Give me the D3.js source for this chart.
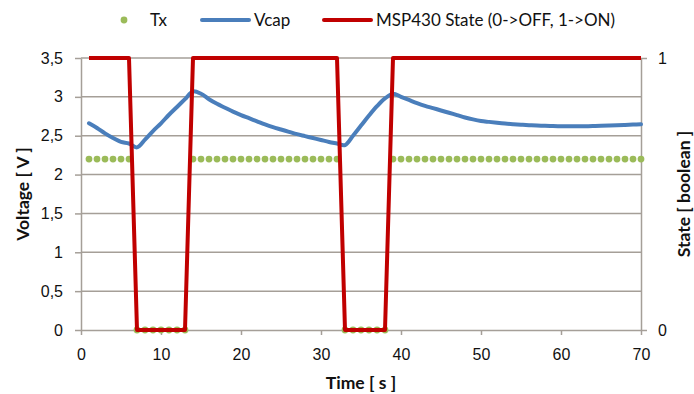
<!DOCTYPE html>
<html>
<head>
<meta charset="utf-8">
<script src="https://cdn.jsdelivr.net/npm/d3@7/dist/d3.min.js"></script>
<style>
  html, body { margin: 0; padding: 0; background: #fff; }
  svg { display: block; font-family: Lato, "Open Sans", sans-serif; }
</style>
</head>
<body>
<svg id="chart" width="694" height="394"></svg>
<script>
// Time in seconds (one sample per second)
const time = d3.range(1, 71);

// Transmission marker (V)
const tx = [
  2.2, 2.2, 2.2, 2.2, 2.2, 2.2, 0, 0, 0, 0,
  0, 0, 0, 2.2, 2.2, 2.2, 2.2, 2.2, 2.2, 2.2,
  2.2, 2.2, 2.2, 2.2, 2.2, 2.2, 2.2, 2.2, 2.2, 2.2,
  2.2, 2.2, 0, 0, 0, 0, 0, 0, 2.2, 2.2,
  2.2, 2.2, 2.2, 2.2, 2.2, 2.2, 2.2, 2.2, 2.2, 2.2,
  2.2, 2.2, 2.2, 2.2, 2.2, 2.2, 2.2, 2.2, 2.2, 2.2,
  2.2, 2.2, 2.2, 2.2, 2.2, 2.2, 2.2, 2.2, 2.2, 2.2
];

// Capacitor voltage (V)
const vcap = [
  2.66, 2.60, 2.53, 2.47, 2.42, 2.40, 2.35, 2.45, 2.56, 2.66,
  2.77, 2.87, 2.97, 3.07, 3.04, 2.97, 2.91, 2.86, 2.81, 2.765,
  2.725, 2.685, 2.645, 2.61, 2.58, 2.55, 2.52, 2.495, 2.47, 2.445,
  2.42, 2.40, 2.38, 2.50, 2.63, 2.76, 2.88, 2.98, 3.04, 3.00,
  2.96, 2.92, 2.885, 2.855, 2.825, 2.795, 2.765, 2.735, 2.71, 2.69,
  2.678, 2.667, 2.657, 2.649, 2.642, 2.636, 2.631, 2.627, 2.624, 2.622,
  2.621, 2.621, 2.622, 2.624, 2.627, 2.630, 2.634, 2.638, 2.643, 2.648
];

// MSP430 state (0 = OFF, 1 = ON)
const state = [
  1, 1, 1, 1, 1, 1, 0, 0, 0, 0,
  0, 0, 0, 1, 1, 1, 1, 1, 1, 1,
  1, 1, 1, 1, 1, 1, 1, 1, 1, 1,
  1, 1, 0, 0, 0, 0, 0, 0, 1, 1,
  1, 1, 1, 1, 1, 1, 1, 1, 1, 1,
  1, 1, 1, 1, 1, 1, 1, 1, 1, 1,
  1, 1, 1, 1, 1, 1, 1, 1, 1, 1
];

const xTicks = [0, 10, 20, 30, 40, 50, 60, 70];
const yTicks = [0, 0.5, 1, 1.5, 2, 2.5, 3, 3.5];
const stateTicks = [0, 1];
const seriesNames = ["Tx", "Vcap", "MSP430 State (0->OFF, 1->ON)"];

const colors = { tx: "#9BBB59", vcap: "#4A7EBB", state: "#C00000", grid: "#A59F98", text: "#111" };

const svg = d3.select("#chart");
const plot = { left: 81, right: 641, top: 58, bottom: 330 };

const x = d3.scaleLinear().domain([0, 70]).range([plot.left, plot.right]);
const y = d3.scaleLinear().domain([0, 3.5]).range([plot.bottom, plot.top]);
const yState = d3.scaleLinear().domain([0, 1]).range([plot.bottom, plot.top]);

const fmt = v => String(v).replace(".", ",");

// Horizontal gridlines
svg.append("g")
  .selectAll("line")
  .data(yTicks.filter(d => d > 0))
  .join("line")
  .attr("x1", plot.left).attr("x2", plot.right)
  .attr("y1", d => y(d)).attr("y2", d => y(d))
  .attr("stroke", colors.grid).attr("stroke-width", 1.5);

// Axes
const styleAxis = g => {
  g.select(".domain").attr("stroke", colors.grid).attr("stroke-width", 1.5);
  g.selectAll(".tick line").attr("stroke", colors.grid).attr("stroke-width", 1.5);
  g.selectAll(".tick text").attr("fill", colors.text).attr("font-size", 16);
};

svg.append("g")
  .attr("transform", `translate(0,${plot.bottom})`)
  .call(d3.axisBottom(x).tickValues(xTicks).tickSize(5).tickSizeOuter(0).tickPadding(14))
  .call(styleAxis);

svg.append("g")
  .attr("transform", `translate(${plot.left},0)`)
  .call(d3.axisLeft(y).tickValues(yTicks).tickFormat(fmt).tickSize(6).tickSizeOuter(0).tickPadding(12))
  .call(styleAxis);

svg.append("g")
  .attr("transform", `translate(${plot.right},0)`)
  .call(d3.axisRight(yState).tickValues(stateTicks).tickFormat(d3.format("d")).tickSize(6).tickSizeOuter(0).tickPadding(11))
  .call(styleAxis);

// Tx markers
svg.append("g")
  .selectAll("circle")
  .data(time.map((t, i) => [t, tx[i]]))
  .join("circle")
  .attr("cx", d => x(d[0])).attr("cy", d => y(d[1]))
  .attr("r", 3.4)
  .attr("fill", colors.tx);

// Vcap smoothed line
svg.append("path")
  .datum(time.map((t, i) => [t, vcap[i]]))
  .attr("fill", "none")
  .attr("stroke", colors.vcap)
  .attr("stroke-width", 4)
  .attr("stroke-linejoin", "round")
  .attr("stroke-linecap", "round")
  .attr("d", d3.line().x(d => x(d[0])).y(d => y(d[1])).curve(d3.curveCatmullRom.alpha(0.5)));

// MSP430 state line
svg.append("path")
  .datum(time.map((t, i) => [t, state[i]]))
  .attr("fill", "none")
  .attr("stroke", colors.state)
  .attr("stroke-width", 4)
  .attr("stroke-linejoin", "round")
  .attr("d", d3.line().x(d => x(d[0])).y(d => yState(d[1])));

// Axis titles
svg.append("text")
  .attr("x", 361).attr("y", 389)
  .attr("text-anchor", "middle").attr("font-size", 17.5).attr("font-weight", "bold")
  .attr("fill", colors.text)
  .text("Time [ s ]");

svg.append("text")
  .attr("transform", `translate(29,${(plot.top + plot.bottom) / 2}) rotate(-90)`)
  .attr("text-anchor", "middle").attr("font-size", 17.5).attr("font-weight", "bold")
  .attr("fill", colors.text)
  .text("Voltage [ V ]");

svg.append("text")
  .attr("transform", `translate(690,${(plot.top + plot.bottom) / 2}) rotate(-90)`)
  .attr("text-anchor", "middle").attr("font-size", 17.5).attr("font-weight", "bold")
  .attr("fill", colors.text)
  .text("State [ boolean ]");

// Legend
const legend = svg.append("g").attr("font-size", 17).attr("fill", colors.text);
const ly = 20;
legend.append("circle").attr("cx", 124).attr("cy", ly).attr("r", 3.4).attr("fill", colors.tx);
legend.append("text").attr("x", 150).attr("y", ly + 6).text(seriesNames[0]);
legend.append("line").attr("x1", 202).attr("x2", 249).attr("y1", ly).attr("y2", ly)
  .attr("stroke", colors.vcap).attr("stroke-width", 4).attr("stroke-linecap", "round");
legend.append("text").attr("x", 254).attr("y", ly + 6).text(seriesNames[1]);
legend.append("line").attr("x1", 324).attr("x2", 371).attr("y1", ly).attr("y2", ly)
  .attr("stroke", colors.state).attr("stroke-width", 4).attr("stroke-linecap", "round");
legend.append("text").attr("x", 376).attr("y", ly + 6).text(seriesNames[2]);
</script>
</body>
</html>
